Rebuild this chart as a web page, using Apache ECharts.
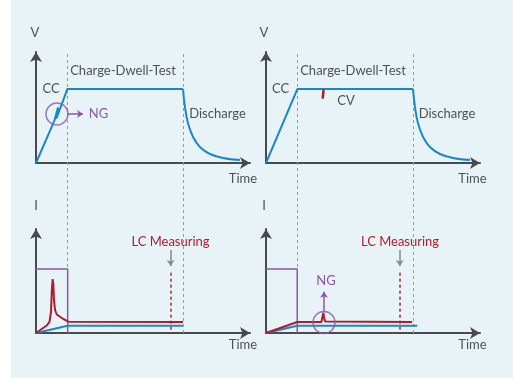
<!DOCTYPE html>
<html><head><meta charset="utf-8">
<script src="https://cdn.jsdelivr.net/npm/echarts@6/dist/echarts.min.js"></script>
<style>
html,body{margin:0;padding:0;background:#fff}
#c{width:513px;height:378px;background:linear-gradient(to right,#ffffff 11px,#e8f3f8 11px)}
</style>
</head><body><div id="c"></div><script>
// Time axis and value axis are both in % of axis length (schematic chart)
const chargeEnd = 14.7;
const dwellEnd = 68.7;
const lcTime = [62.9, 62.5];

// Panel 1: voltage, with NG glitch during CC
const v1Time = [0, 8.6, 10.3, 9.5, 14.7, 68.7];
const v1Val  = [0, 38.2, 50.0, 40.0, 66.7, 66.7];
// Discharge curve (both voltage panels)
const dischargeTime = [68.7, 69.6, 71.0, 73.4, 76.6, 81.3, 87.4, 95.3];
const dischargeVal  = [66.7, 50.5, 36.0, 23.4, 14.4, 8.1, 4.5, 2.7];
// Panel 2: voltage with small CV dip
const v2Time = [0, 14.7, 68.7];
const v2Val  = [0, 66.7, 66.7];
const cvDipTime = [26.9, 26.5];
const cvDipVal  = [66.0, 58.0];
// Panel 3: current
const limitTime = [0, 14.8, 14.8];
const limitVal  = [61.5, 61.5, 0];
const i3RedTime = [0, 5.0, 6.3, 7.0, 7.4, 7.8, 8.1, 8.4, 8.9, 9.7, 12.1, 15.1, 68.7];
const i3RedVal  = [0, 7.2, 10.6, 20.2, 41.3, 51.9, 47.1, 31.7, 22.1, 17.8, 14.4, 10.9, 10.6];
const i3BlueTime = [0, 14.8, 68.7];
const i3BlueVal  = [0, 7.0, 7.0];
// Panel 4: current with NG peak
const limit4Time = [0, 14.6, 14.6];
const i4RedTime = [0, 14.6, 25.9, 26.4, 26.8, 27.2, 27.7, 28.2, 68.3];
const i4RedVal  = [0, 10.6, 10.6, 12.5, 19.5, 14.0, 11.0, 10.6, 10.6];
const i4BlueTime = [0, 14.6, 70.7];
const i4BlueVal  = [0, 7.0, 7.0];
// Annotations
const ngCircle1 = [9.8, 44.1];
const ngArrow1 = [[14.7, 44.1], [22.0, 44.1]];
const ngCircle4 = [27.1, 10.1];
const ngArrow4 = [[27.1, 20.5], [27.1, 39.7]];
const lcTop = 58;
const lcArrowVal = [79.8, 64.4];

const BLUE = '#1b87c9', RED = '#b01c2c', PURPLE = '#8b57a9', AXIS = '#4a4a4a', GRAY = '#9a9a9a', TXT = '#505050';
const zip = (a, b) => a.map((x, i) => [x, b[i]]);

const grids = [
  {left: 36, top: 52, width: 214, height: 111},
  {left: 266, top: 52, width: 214, height: 111},
  {left: 36, top: 229, width: 214, height: 104},
  {left: 266, top: 229, width: 214, height: 104},
  {left: 36, top: 52, width: 214, height: 281},
  {left: 266, top: 52, width: 214, height: 281}
];
const axisLine = {show: true, symbol: ['none', 'arrow'], symbolSize: [9, 10], lineStyle: {color: AXIS, width: 2}};
const mkAxis = (i, visible) => ({
  type: 'value', gridIndex: i, min: 0, max: 100, show: visible,
  axisLine: axisLine, axisTick: {show: false}, axisLabel: {show: false}, splitLine: {show: false}
});
const xAxes = grids.map((g, i) => mkAxis(i, i < 4));
const yAxes = grids.map((g, i) => mkAxis(i, i < 4));

const line = (gi, data, color, width, extra) => Object.assign({
  type: 'line', xAxisIndex: gi, yAxisIndex: gi, data: data, showSymbol: false, symbol: 'none',
  lineStyle: {color: color, width: width}, silent: true, animation: false, z: 3
}, extra || {});
const segs = (gi, list, color, width, dashed, arrow, arrowSize) => ({
  type: 'lines', coordinateSystem: 'cartesian2d', xAxisIndex: gi, yAxisIndex: gi, silent: true, animation: false,
  symbol: arrow ? ['none', 'arrow'] : ['none', 'none'], symbolSize: arrowSize || 7,
  lineStyle: {color: color, width: width, type: dashed ? [3, 3] : 'solid', opacity: 1, curveness: 0},
  data: list.map(c => ({coords: c})), z: 2
});
const circle = (gi, pt) => ({
  type: 'scatter', xAxisIndex: gi, yAxisIndex: gi, data: [pt], symbol: 'circle', symbolSize: 22, silent: true,
  itemStyle: {color: 'rgba(0,0,0,0)', borderColor: PURPLE, borderWidth: 1.5}, z: 4, animation: false
});

const series = [
  segs(4, [[[chargeEnd, 0], [chargeEnd, 100]], [[dwellEnd, 0], [dwellEnd, 100]]], GRAY, 1, true),
  segs(5, [[[chargeEnd, 0], [chargeEnd, 100]], [[dwellEnd, 0], [dwellEnd, 100]]], GRAY, 1, true),
  // panel 1
  line(0, zip(v1Time, v1Val), BLUE, 2),
  line(0, zip(dischargeTime, dischargeVal), BLUE, 2, {smooth: 0.4}),
  circle(0, ngCircle1),
  segs(0, [ngArrow1], PURPLE, 1.5, false, true, 6),
  // panel 2
  line(1, zip(v2Time, v2Val), BLUE, 2),
  line(1, zip(dischargeTime, dischargeVal), BLUE, 2, {smooth: 0.4}),
  line(1, zip(cvDipTime, cvDipVal), RED, 2.5),
  // panel 3
  line(2, zip(limitTime, limitVal), PURPLE, 1.5),
  line(2, zip(i3BlueTime, i3BlueVal), BLUE, 2),
  line(2, zip(i3RedTime, i3RedVal), RED, 2),
  segs(2, [[[lcTime[0], lcTop], [lcTime[0], 0]]], RED, 1.5, true),
  segs(2, [[[lcTime[0], lcArrowVal[0]], [lcTime[0], lcArrowVal[1]]]], '#888', 1.5, false, true, 6),
  // panel 4
  line(3, zip(limit4Time, limitVal), PURPLE, 1.5),
  line(3, zip(i4BlueTime, i4BlueVal), BLUE, 2),
  line(3, zip(i4RedTime, i4RedVal), RED, 2),
  circle(3, ngCircle4),
  segs(3, [ngArrow4], PURPLE, 1.5, false, true, 6),
  segs(3, [[[lcTime[1], lcTop], [lcTime[1], 0]]], RED, 1.5, true),
  segs(3, [[[lcTime[1], lcArrowVal[0]], [lcTime[1], lcArrowVal[1]]]], '#888', 1.5, false, true, 6)
];

const FONT = 'Lato';
const txt = (s, x, y, color) => ({
  type: 'text', x: x, y: y, silent: true, z: 10,
  style: {text: s, fill: color || TXT, font: '13px ' + FONT, align: 'center', verticalAlign: 'middle'}
});
const graphic = [
  txt('V', 35, 33), txt('Time', 243, 179), txt('CC', 51, 89), txt('Charge-Dwell-Test', 123, 71),
  txt('NG', 98.5, 114, PURPLE), txt('Discharge', 217.5, 114),
  txt('V', 264, 33), txt('Time', 472.5, 179), txt('CC', 280.5, 89), txt('Charge-Dwell-Test', 353, 71),
  txt('CV', 346, 101), txt('Discharge', 447, 114),
  txt('I', 36, 206), txt('Time', 243, 345), txt('LC Measuring', 170.5, 242, RED),
  txt('I', 264, 206), txt('Time', 472.5, 345), txt('LC Measuring', 400, 242, RED), txt('NG', 326, 281, PURPLE)
];

const chart = echarts.init(document.getElementById('c'), null, {renderer: 'canvas'});
chart.setOption({
  animation: false,
  backgroundColor: 'transparent',
  grid: grids.map(g => Object.assign({outerBoundsMode: 'none', containLabel: false}, g)),
  xAxis: xAxes, yAxis: yAxes, series: series, graphic: graphic
});
</script></body></html>
